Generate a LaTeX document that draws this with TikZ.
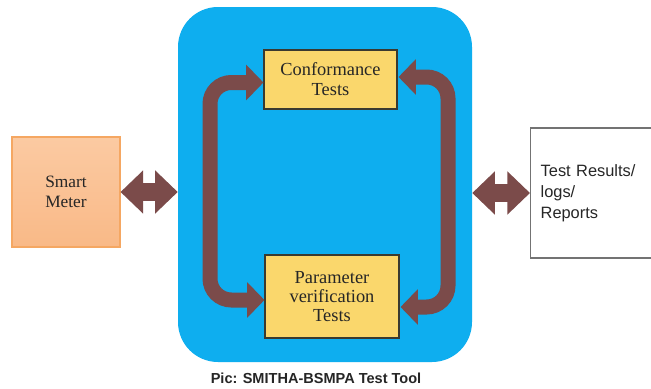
\documentclass[tikz,border=0pt]{standalone}
\usepackage{fontspec}
\setmainfont{Liberation Serif}
\setsansfont{Liberation Sans}
\usetikzlibrary{arrows.meta,calc}
\definecolor{bluebg}{HTML}{0EAEEF}
\definecolor{brownar}{HTML}{7B4B4A}
\definecolor{yellowbox}{HTML}{FAD76C}
\definecolor{yellowline}{HTML}{3A3A30}
\definecolor{orangetop}{HTML}{FBCAA2}
\definecolor{orangebot}{HTML}{F9B987}
\definecolor{orangeline}{HTML}{F5A762}
\definecolor{txt}{HTML}{262626}
\tikzset{
  testbox/.style={draw=yellowline, line width=0.8pt, fill=yellowbox, align=center,
    font=\fontsize{13.8}{15}\selectfont, text=txt, inner sep=0pt},
  curv/.style={draw=brownar, line width=11.25pt, rounded corners=16pt,
    {Triangle[length=13pt,width=26pt]}-{Triangle[length=13pt,width=26pt]}},
  straightar/.style={draw=brownar, line width=13.5pt,
    {Triangle[length=17pt,width=31.5pt]}-{Triangle[length=17pt,width=31.5pt]}}
}
\begin{document}
\begin{tikzpicture}[x=0.75pt,y=-0.75pt]
\useasboundingbox (0,0) rectangle (651,389);
\clip (0,0) rectangle (651,389);
\fill[white] (0,0) rectangle (651,389);
% blue container
\node[fill=bluebg, rounded corners=30pt, minimum width=220.5pt, minimum height=266.25pt, inner sep=0pt] (tool) at (325,184.5) {};
% boxes
\node[draw=orangeline, line width=0.8pt, top color=orangetop, bottom color=orangebot,
  minimum width=81pt, minimum height=82.5pt, align=center, inner sep=0pt,
  font=\fontsize{13}{15}\selectfont, text=txt] (sm) at (66,192) {Smart\\Meter};
\node[testbox, minimum width=99.75pt, minimum height=44.25pt] (conf) at (330.5,79.5) {Conformance\\Tests};
\node[testbox, minimum width=100.5pt, minimum height=62.25pt, font=\fontsize{13.8}{14}\selectfont] (param) at (332,296.5) {Parameter\\verification\\Tests};
\node[draw=gray!90!black, line width=1pt, fill=white, anchor=west, minimum height=97.5pt,
  text width=90pt, inner xsep=7.5pt, align=left, font=\sffamily\fontsize{12.3}{15.8}\selectfont, text=txt] (res) at (530,193) {Test Results/\\logs/\\Reports};
% curved arrows
\coordinate (L) at (210,190);
\coordinate (R) at (448,190);
\draw[curv] ($(conf.west)+(0,3)$) -| (L) |- ($(param.west)+(0,3.5)$);
\draw[curv] ($(conf.east)+(1,-2.5)$) -| (R) |- ($(param.east)+(1,10.5)$);
% straight arrows
\draw[straightar] (sm.east) -- (sm.east -| tool.west);
\draw[straightar] (tool.east |- res.west) -- (res.west);
% caption
\node[font=\sffamily\bfseries\fontsize{10.9}{13}\selectfont, text=txt] (cap) at (316,378) {Pic: SMITHA-BSMPA Test Tool};
\end{tikzpicture}
\end{document}
